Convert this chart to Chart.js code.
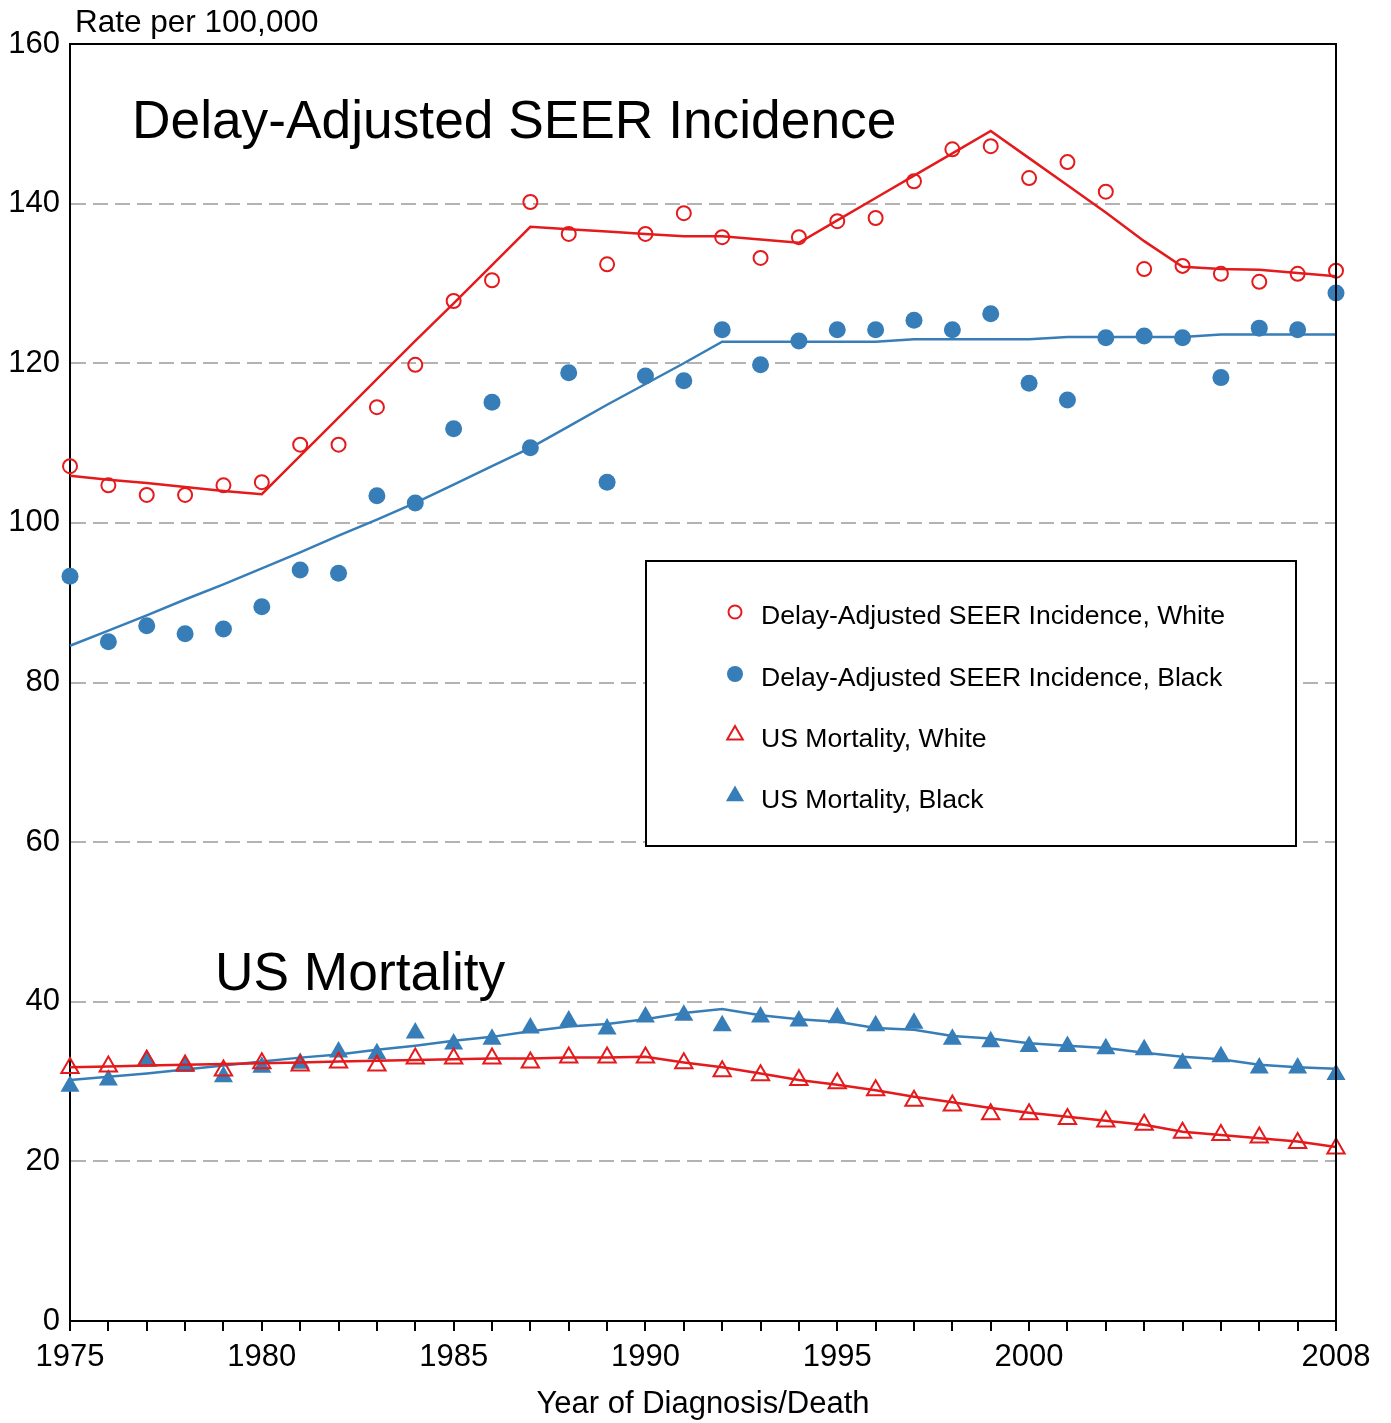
<!DOCTYPE html>
<html>
<head>
<meta charset="utf-8">
<title>Incidence and Mortality by Race</title>
<script src="https://cdn.jsdelivr.net/npm/chart.js"></script>
<style>
  html, body { margin: 0; padding: 0; background: #fff; }
  #wrap { width: 1391px; height: 1423px; }
</style>
</head>
<body>
<div id="wrap"><canvas id="rateChart" width="1391" height="1423"></canvas></div>
<script>
// Chart data
const years = [1975, 1976, 1977, 1978, 1979, 1980, 1981, 1982, 1983, 1984, 1985, 1986,
  1987, 1988, 1989, 1990, 1991, 1992, 1993, 1994, 1995, 1996, 1997, 1998, 1999, 2000,
  2001, 2002, 2003, 2004, 2005, 2006, 2007, 2008];
const yearLabels = [1975, 1980, 1985, 1990, 1995, 2000, 2008];
const yTicks = [0, 20, 40, 60, 80, 100, 120, 140, 160];

const incWhite = [107.1, 104.7, 103.5, 103.5, 104.7, 105.1, 109.8, 109.8, 114.5, 119.8, 127.8, 130.4,
  140.2, 136.2, 132.4, 136.2, 138.8, 135.8, 133.2, 135.8, 137.8, 138.2, 142.8, 146.8, 147.2, 143.2,
  145.2, 141.5, 131.8, 132.2, 131.2, 130.2, 131.2, 131.6];
const incWhiteFit = [105.9, 105.4, 105.0, 104.5, 104.0, 103.6, 108.4, 113.2, 118.0, 122.8, 127.5, 132.3,
  137.1, 136.8, 136.5, 136.2, 135.9, 135.9, 135.5, 135.1, 137.9, 140.7, 143.5, 146.3, 149.1, 145.7,
  142.3, 138.9, 135.3, 132.1, 131.8, 131.7, 131.3, 130.9];

const incBlack = [93.3, 85.1, 87.1, 86.1, 86.7, 89.5, 94.1, 93.7, 103.4, 102.5, 111.8, 115.1,
  109.4, 118.8, 105.1, 118.4, 117.8, 124.2, 119.8, 122.8, 124.2, 124.2, 125.4, 124.2, 126.2, 117.5,
  115.4, 123.2, 123.4, 123.2, 118.2, 124.4, 124.2, 128.8];
const incBlackFit = [84.6, 86.5, 88.4, 90.4, 92.3, 94.3, 96.3, 98.4, 100.4, 102.5, 104.8, 107.1,
  109.4, 112.1, 114.8, 117.4, 120.0, 122.7, 122.7, 122.7, 122.7, 122.7, 123.0, 123.0, 123.0, 123.0,
  123.3, 123.3, 123.3, 123.3, 123.6, 123.6, 123.6, 123.6];

const mortWhite = [31.7, 31.9, 32.6, 32.0, 31.4, 32.3, 32.0, 32.4, 32.0, 32.9, 32.9, 32.9,
  32.4, 33.0, 33.0, 33.0, 32.3, 31.3, 30.8, 30.2, 29.8, 28.9, 27.6, 27.0, 25.9, 25.9,
  25.3, 25.0, 24.6, 23.6, 23.3, 23.0, 22.3, 21.6];
const mortWhiteFit = [31.8, 31.9, 32.0, 32.1, 32.2, 32.3, 32.4, 32.5, 32.6, 32.7, 32.8, 32.9,
  32.9, 33.0, 33.0, 33.1, 32.4, 31.8, 31.0, 30.2, 29.6, 28.9, 28.1, 27.4, 26.7, 26.1,
  25.6, 25.1, 24.6, 23.7, 23.3, 22.9, 22.5, 21.8];

const mortBlack = [29.4, 30.2, 32.7, 31.9, 30.6, 31.8, 32.3, 33.7, 33.5, 36.1, 34.7, 35.3,
  36.7, 37.6, 36.6, 38.1, 38.3, 37.0, 38.1, 37.6, 38.0, 37.0, 37.3, 35.3, 35.0, 34.4,
  34.4, 34.1, 34.0, 32.3, 33.1, 31.7, 31.7, 30.9];
const mortBlackFit = [30.2, 30.6, 31.0, 31.5, 32.0, 32.5, 33.0, 33.4, 34.0, 34.5, 35.1, 35.6,
  36.3, 36.9, 37.2, 37.8, 38.6, 39.1, 38.3, 37.8, 37.5, 36.7, 36.5, 35.7, 35.4, 34.8,
  34.5, 34.2, 33.6, 33.1, 32.8, 32.1, 31.8, 31.6];

const RED = '#e41a1c';
const BLUE = '#377eb8';
const NONE = 'rgba(0,0,0,0)';

const toXY = vals => years.map((yr, i) => ({ x: yr, y: vals[i] }));

// legend rows: label, point style, filled?, colour, radius
const legendItems = [
  { text: 'Delay-Adjusted SEER Incidence, White', style: 'circle', fill: false, color: RED, r: 6.5 },
  { text: 'Delay-Adjusted SEER Incidence, Black', style: 'circle', fill: true, color: BLUE, r: 8 },
  { text: 'US Mortality, White', style: 'triangle', fill: false, color: RED, r: 9 },
  { text: 'US Mortality, Black', style: 'triangle', fill: true, color: BLUE, r: 10.5 }
];

Chart.defaults.font.family = '"Liberation Sans", Arial, Helvetica, sans-serif';
Chart.defaults.color = '#000';

function pointSet(label, vals, style, filled, color, radius) {
  return {
    label: label,
    data: toXY(vals),
    showLine: false,
    pointStyle: style,
    pointRadius: radius,
    pointHoverRadius: radius,
    pointBorderWidth: filled ? 0 : 2,
    pointBorderColor: color,
    pointBackgroundColor: filled ? color : NONE,
    clip: false
  };
}

function fitSet(label, vals, color) {
  return {
    label: label,
    data: toXY(vals),
    borderColor: color,
    borderWidth: 2.5,
    pointRadius: 0,
    pointHoverRadius: 0,
    tension: 0,
    fill: false,
    clip: false
  };
}

// texts, frame and legend box drawn on top of the plot
const overlay = {
  id: 'overlay',
  afterDraw(chart) {
    const { ctx, chartArea: a } = chart;
    const fam = Chart.defaults.font.family;
    ctx.save();

    ctx.strokeStyle = '#000';
    ctx.lineWidth = 2;
    ctx.beginPath();
    ctx.moveTo(a.left, a.top);
    ctx.lineTo(a.right, a.top);
    ctx.lineTo(a.right, a.bottom);
    ctx.stroke();

    ctx.fillStyle = '#000';
    ctx.textBaseline = 'alphabetic';
    ctx.textAlign = 'left';
    ctx.font = '31.5px ' + fam;
    ctx.fillText('Rate per 100,000', 75, 32);
    ctx.font = '53.3px ' + fam;
    ctx.fillText('Delay-Adjusted SEER Incidence', 132, 138);
    ctx.fillText('US Mortality', 215, 990);

    // legend
    const bx = 646, by = 561, bw = 650, bh = 285;
    ctx.fillStyle = '#fff';
    ctx.fillRect(bx, by, bw, bh);
    ctx.strokeStyle = '#000';
    ctx.lineWidth = 2;
    ctx.strokeRect(bx, by, bw, bh);

    const rowY = [617, 679, 740, 801];
    ctx.font = '26.6px ' + fam;
    ctx.textBaseline = 'middle';
    legendItems.forEach((it, i) => {
      ctx.fillStyle = it.fill ? it.color : '#fff';
      ctx.strokeStyle = it.color;
      ctx.lineWidth = 2;
      Chart.helpers.drawPoint(ctx, {
        pointStyle: it.style, radius: it.r, rotation: 0, borderWidth: it.fill ? 0 : 2
      }, 735, rowY[i] - 5);
      ctx.fillStyle = '#000';
      ctx.fillText(it.text, 761, rowY[i]);
    });
    ctx.restore();
  }
};

const chart = new Chart(document.getElementById('rateChart'), {
  type: 'line',
  data: {
    datasets: [
      pointSet('Delay-Adjusted SEER Incidence, White', incWhite, 'circle', false, RED, 7),
      fitSet('Incidence White trend', incWhiteFit, RED),
      pointSet('Delay-Adjusted SEER Incidence, Black', incBlack, 'circle', true, BLUE, 8.5),
      fitSet('Incidence Black trend', incBlackFit, BLUE),
      pointSet('US Mortality, White', mortWhite, 'triangle', false, RED, 10),
      fitSet('Mortality White trend', mortWhiteFit, RED),
      pointSet('US Mortality, Black', mortBlack, 'triangle', true, BLUE, 11),
      fitSet('Mortality Black trend', mortBlackFit, BLUE)
    ]
  },
  options: {
    responsive: false,
    animation: false,
    devicePixelRatio: 1,
    layout: { padding: { top: 44, right: 55, bottom: 0, left: 0 } },
    plugins: {
      legend: { display: false },
      tooltip: { enabled: false }
    },
    scales: {
      x: {
        type: 'linear',
        min: 1975,
        max: 2008,
        afterFit: s => { s.height = 102; },
        ticks: {
          stepSize: 1,
          autoSkip: false,
          maxTicksLimit: 100,
          maxRotation: 0,
          padding: 8,
          color: '#000',
          font: { size: 31 },
          callback: v => yearLabels.includes(v) ? String(v) : ''
        },
        grid: {
          drawOnChartArea: false,
          drawTicks: true,
          tickLength: 10,
          color: '#000',
          lineWidth: 2
        },
        border: { color: '#000', width: 2 },
        title: {
          display: true,
          text: 'Year of Diagnosis/Death',
          color: '#000',
          font: { size: 31 },
          padding: { top: 0, bottom: 0 }
        }
      },
      y: {
        min: 0,
        max: 160,
        afterFit: s => { s.width = 70; },
        afterBuildTicks: s => { s.ticks = yTicks.map(v => ({ value: v })); },
        ticks: {
          color: '#000',
          padding: 10,
          font: { size: 31 }
        },
        grid: {
          drawTicks: false,
          lineWidth: 2,
          color: c => (c.tick && (c.tick.value === 0 || c.tick.value === 160)) ? NONE : '#b3b3b3'
        },
        border: { color: '#000', width: 2, dash: [15, 7] }
      }
    }
  },
  plugins: [overlay]
});
</script>
</body>
</html>
